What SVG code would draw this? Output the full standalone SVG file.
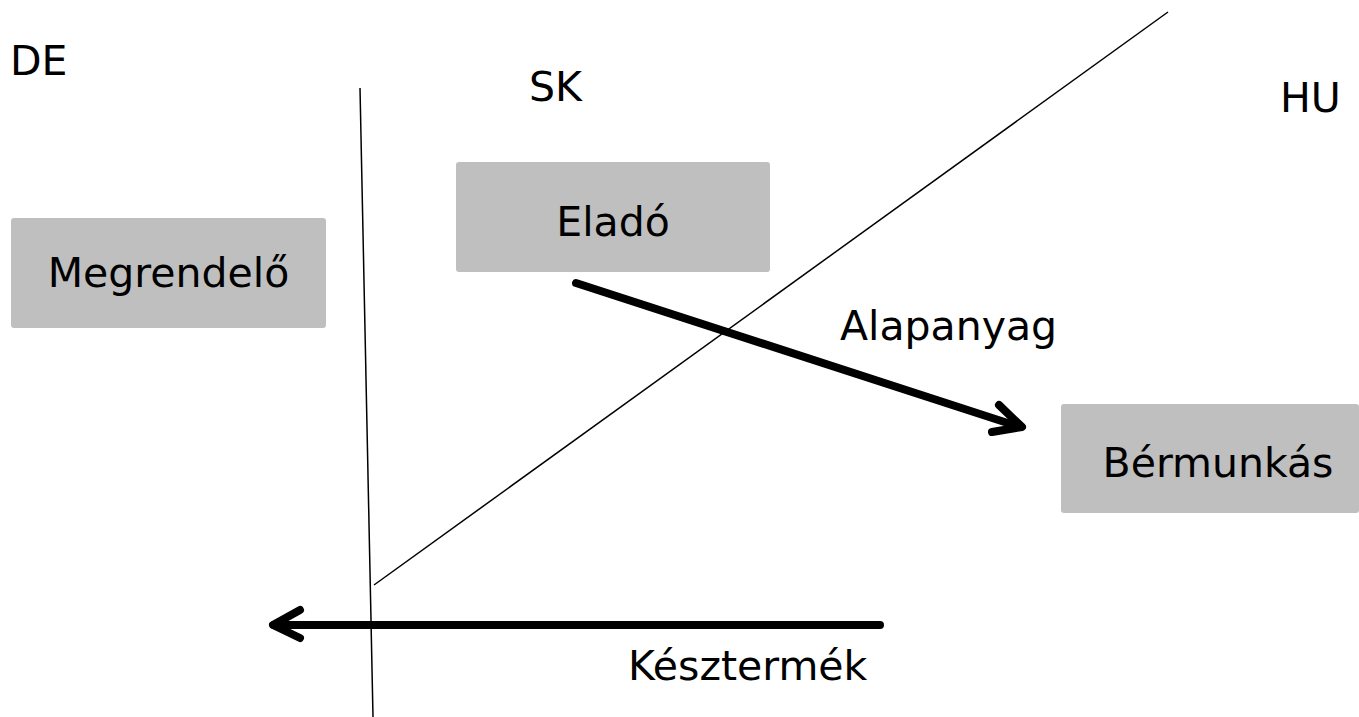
<svg xmlns="http://www.w3.org/2000/svg" width="1359" height="717" viewBox="0 0 1359 717">
<style>
.box{fill:#bfbfbf}
.t{font-family:"DejaVu Sans",Verdana,sans-serif;font-size:41px;fill:#000}
.thin{stroke:#000;stroke-width:1.5;fill:none}
.arr{stroke:#000;stroke-width:8;fill:none;stroke-linecap:round;stroke-linejoin:round}
</style>
<rect width="1359" height="717" fill="#fff"/>
<g id="labels">
<text class="t" x="10" y="75">DE</text>
<text class="t" x="529" y="101">SK</text>
<text class="t" x="1280" y="112">HU</text>
</g>
<g id="connectors">
<line class="thin" x1="360" y1="88" x2="373" y2="717"/>
<line class="thin" x1="374" y1="585" x2="1168" y2="12"/>
<g id="edge-alapanyag">
<line class="arr" x1="576" y1="283" x2="1020" y2="427"/>
<polyline class="arr" points="999,405 1022,427 992,432"/>
<text class="t" x="840" y="340">Alapanyag</text>
</g>
<g id="edge-keszermek">
<line class="arr" x1="880" y1="625" x2="274" y2="625"/>
<polyline class="arr" points="300,610 273,625 300,638"/>
<text class="t" x="628" y="680">Késztermék</text>
</g>
</g>
<g id="node-megrendelo">
<rect class="box" x="11" y="218" width="315" height="110" rx="3"/>
<text class="t" x="168.5" y="287" text-anchor="middle">Megrendelő</text>
</g>
<g id="node-elado">
<rect class="box" x="456" y="162" width="314" height="110" rx="3"/>
<text class="t" x="613" y="236" text-anchor="middle">Eladó</text>
</g>
<g id="node-bermunkas">
<rect class="box" x="1061" y="404" width="298" height="109" rx="3"/>
<text class="t" x="1218" y="477" text-anchor="middle">Bérmunkás</text>
</g>
</svg>
